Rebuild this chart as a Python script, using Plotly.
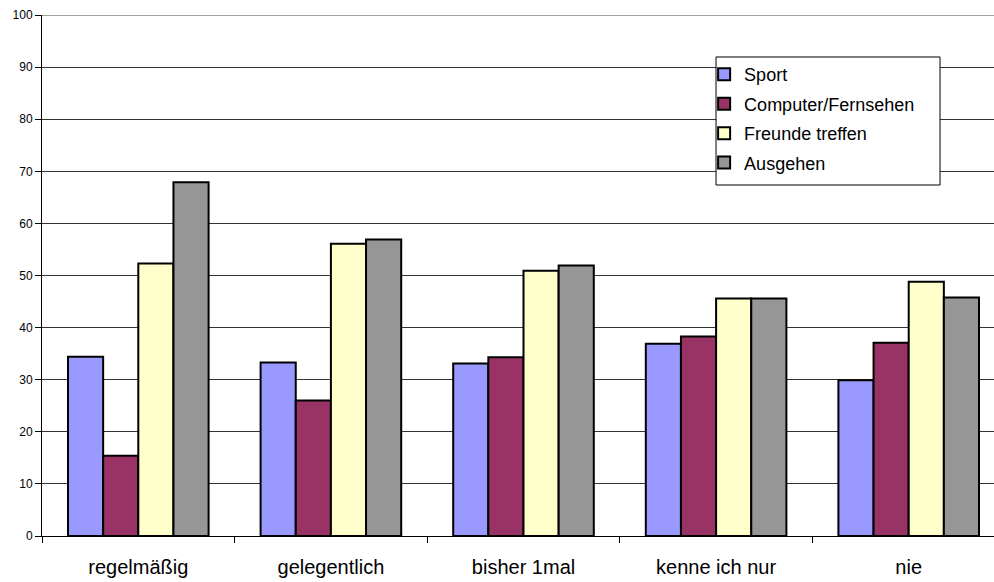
import plotly.graph_objects as go

categories = ["regelmäßig", "gelegentlich", "bisher 1mal", "kenne ich nur", "nie"]
series_names = ["Sport", "Computer/Fernsehen", "Freunde treffen", "Ausgehen"]
sport = [34.4, 33.3, 33.1, 36.9, 29.9]
computer = [15.4, 26.0, 34.3, 38.3, 37.1]
freunde = [52.3, 56.1, 50.9, 45.6, 48.8]
ausgehen = [67.9, 56.9, 51.9, 45.6, 45.8]
colors = ["#9999FF", "#993366", "#FFFFCC", "#969696"]
y_ticks = list(range(0, 101, 10))

fig = go.Figure()
for name, vals, col in zip(series_names, [sport, computer, freunde, ausgehen], colors):
    fig.add_trace(go.Bar(
        name=name, x=categories, y=vals, legendgroup=name,
        marker=dict(color=col, line=dict(color="#000000", width=2)),
    ))

# legend frame
fig.add_shape(type="rect", xref="paper", yref="paper",
              x0=0.708, x1=0.9433, y0=0.6737, y1=0.9194,
              fillcolor="white", line=dict(color="#000000", width=1), layer="above")
# top line at 100
fig.add_shape(type="line", xref="paper", yref="y", x0=0, x1=1, y0=100, y1=100,
              line=dict(color="#808080", width=1.5), layer="above")

fig.update_layout(
    width=994, height=582,
    margin=dict(l=42, r=0, t=15, b=46),
    paper_bgcolor="white", plot_bgcolor="white",
    barmode="group", bargap=0.27, bargroupgap=0,
    font=dict(family="Liberation Sans, Arial", color="#000000"),
    showlegend=True,
    legend=dict(
        x=0.6955, y=0.921, xanchor="left", yanchor="top",
        bgcolor="rgba(0,0,0,0)", borderwidth=0,
        font=dict(size=18, family="Liberation Sans, Arial"),
        tracegroupgap=3, itemwidth=30,
    ),
)
fig.update_xaxes(
    range=[-0.5, 4.5 - 11 / 192.5],
    showline=True, linecolor="#000000", linewidth=1,
    ticks="outside", tickson="boundaries", ticklen=6, tickcolor="#000000",
    tickfont=dict(size=20), ticklabelstandoff=13, showgrid=False,
)
fig.update_yaxes(
    range=[0, 100], tickvals=y_ticks,
    showline=True, linecolor="#000000", linewidth=1,
    ticks="outside", ticklen=6, tickcolor="#000000",
    tickfont=dict(size=12),
    showgrid=True, gridcolor="#333333", gridwidth=1, zeroline=False,
)

fig.write_html("out.html")
